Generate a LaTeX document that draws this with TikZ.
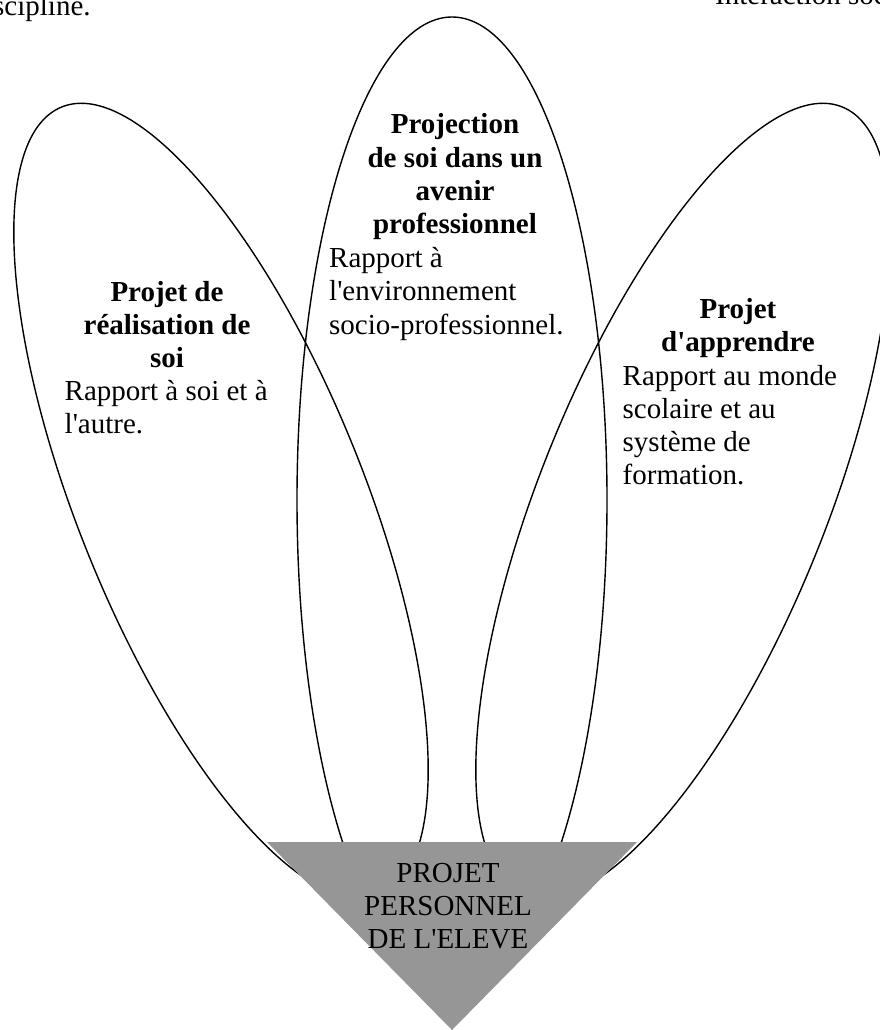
\documentclass[tikz,border=0pt]{standalone}
\usepackage{fontspec}
\setmainfont{Liberation Serif}
\definecolor{trigray}{RGB}{150,150,150}
\begin{document}
\begin{tikzpicture}[x=1pt,y=-1pt,
  petal/.style={draw=black,line width=1.4pt},
  every node/.style={inner sep=0pt,font=\fontsize{29}{33.3}\selectfont},
  titletext/.style={anchor=base,font=\fontsize{29}{33.3}\selectfont\bfseries},
  bodytext/.style={anchor=base west},
  cornertext/.style={anchor=base west}]
\useasboundingbox (0,0) rectangle (880,1030);
\clip (0,0) rectangle (880,1030);
% petals
\draw[petal, rotate around={-68:(221,501)}] (221,501) ellipse [x radius=425pt, y radius=143pt];
\draw[petal] (452,500) ellipse [x radius=155pt, y radius=483pt];
\draw[petal, rotate around={68:(683,501)}] (683,501) ellipse [x radius=425pt, y radius=143pt];
% base triangle
\coordinate (tl) at (267,842);
\coordinate (tr) at (637,842);
\coordinate (tb) at (452,1030);
\fill[trigray] (tl) -- (tr) -- (tb) -- cycle;
\node[anchor=base] (base) at (448,882) {\begin{tabular}[t]{@{}c@{}}PROJET\\ PERSONNEL\\ DE L\textquotesingle ELEVE\end{tabular}};
% left petal
\node[titletext] (t1) at (167,301) {\begin{tabular}[t]{@{}c@{}}Projet de\\ réalisation de\\ soi\end{tabular}};
\node[bodytext] (b1) at (64.5,400) {\begin{tabular}[t]{@{}l@{}}Rapport à soi et à\\ l\textquotesingle autre.\end{tabular}};
% middle petal
\node[titletext] (t2) at (455,134) {\begin{tabular}[t]{@{}c@{}}Projection\\ de soi dans un\\ avenir\\ professionnel\end{tabular}};
\node[bodytext] (b2) at (329,267.5) {\begin{tabular}[t]{@{}l@{}}Rapport à\\ l\textquotesingle environnement\\ socio-professionnel.\end{tabular}};
% right petal
\node[titletext] (t3) at (738,318.5) {\begin{tabular}[t]{@{}c@{}}Projet\\ d\textquotesingle apprendre\end{tabular}};
\node[bodytext] (b3) at (622.5,385) {\begin{tabular}[t]{@{}l@{}}Rapport au monde\\ scolaire et au\\ système de\\ formation.\end{tabular}};
% clipped texts at the top
\node[cornertext] (c1) at (-7,16) {scipline.};
\node[cornertext] (c2) at (715,4.5) {Interaction soc};
\end{tikzpicture}
\end{document}
